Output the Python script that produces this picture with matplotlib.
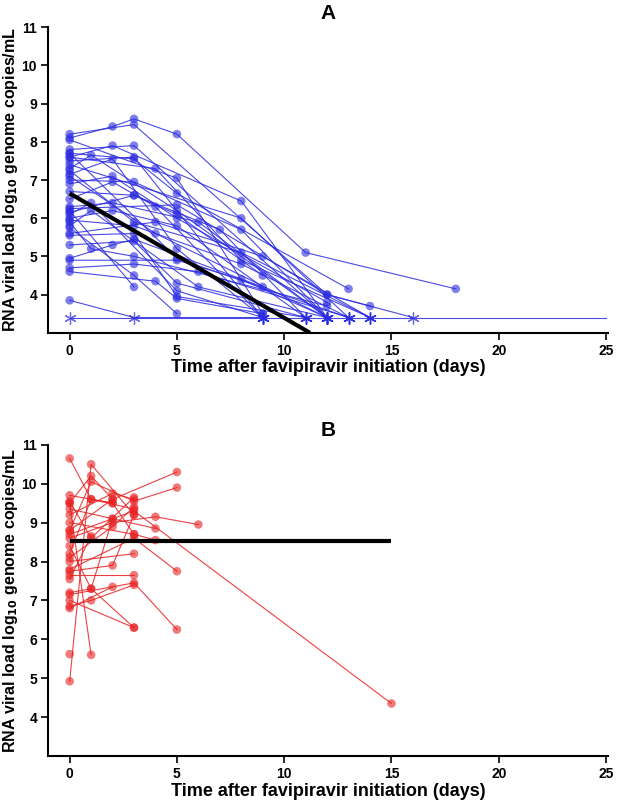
import matplotlib.pyplot as plt

plt.rcParams['font.family'] = ['Liberation Sans', 'DejaVu Sans']

LOD = 3.4

# Panel A: patients with low initial viral load (day, log10 copies/mL); LOD values plotted as *
times_a = [
    [0, 2, 3, 5, 11, 18], [0, 3, 12, 14], [0, 3, 12], [0, 5, 9], [0, 2, 8, 12],
    [0, 3, 9], [0, 3, 5, 13], [0, 1, 5, 12], [0, 2, 5, 9], [0, 8, 13],
    [0, 3, 8, 12], [0, 4, 8, 14], [0, 3, 7, 11], [0, 2, 6, 12], [0, 5, 12, 16],
    [0, 3, 5, 9], [0, 2, 5, 11], [0, 3, 8, 13], [0, 1, 6, 12], [0, 4, 9, 14],
    [0, 3, 5, 11], [0, 2, 3, 9], [0, 5, 8, 12], [0, 3, 6, 13], [0, 4, 5, 9],
    [0, 2, 5, 12], [0, 3, 8, 14], [0, 1, 5, 9], [0, 3, 5, 11], [0, 5, 13],
    [0, 2, 4, 9], [0, 3, 5], [0, 3, 9], [0, 4, 12], [0, 3], [0, 1, 3, 12],
    [0, 25],
]
values_a = [
    [8.1, 8.4, 8.6, 8.2, 5.1, 4.15], [8.2, 8.45, 4.0, 3.7], [7.8, 7.9, 3.4], [8.05, 7.05, 3.5], [7.6, 7.9, 6.45, 3.4],
    [7.5, 7.6, 3.4], [7.7, 7.55, 6.65, 4.15], [7.3, 7.65, 6.2, 3.4], [7.15, 7.55, 5.2, 3.4], [7.4, 6.0, 3.4],
    [7.0, 6.95, 5.7, 3.4], [7.6, 7.3, 4.9, 3.4], [6.7, 6.6, 5.7, 3.4], [6.3, 6.4, 5.9, 3.4], [6.25, 6.35, 4.0, 3.4],
    [6.15, 6.6, 6.1, 4.5], [6.0, 6.2, 5.8, 3.4], [5.95, 5.8, 4.8, 3.4], [5.8, 6.2, 4.2, 3.4], [5.6, 5.9, 5.0, 3.4],
    [5.3, 5.4, 4.3, 3.4], [4.95, 5.3, 5.45, 4.2], [4.9, 4.9, 4.4, 3.4], [4.7, 4.8, 4.6, 3.4], [4.6, 4.35, 3.9, 3.5],
    [6.9, 7.1, 6.0, 3.8], [7.25, 5.9, 5.1, 3.4], [6.1, 6.4, 4.1, 3.4], [5.55, 5.6, 3.95, 3.4], [7.7, 4.95, 3.4],
    [6.5, 6.95, 6.3, 3.4], [5.75, 4.5, 3.5], [3.85, 3.4, 3.4], [7.1, 5.6, 3.4], [6.2, 4.2], [5.9, 5.2, 5.0, 3.7],
    [3.4, 3.4],
]
trend_a_x = [0, 11.2]
trend_a_y = [6.65, 3.0]

# Panel B: patients with high initial viral load
times_b = [
    [0, 1, 2, 5], [0, 1, 3, 5], [0, 1, 2], [0, 2, 3], [0, 2, 4, 6], [0, 3, 15],
    [0, 1, 3], [0, 2, 3], [0, 3, 5], [0, 2, 4], [0, 1, 3], [0, 3, 4],
    [0, 2, 3], [0, 1, 3], [0, 3, 5], [0, 1, 2], [0, 3], [0, 1, 3], [0, 2],
    [0, 1], [0, 3], [0, 2, 3], [0, 3], [0, 1], [0, 2], [0, 1, 3], [0],
]
values_b = [
    [9.5, 10.2, 9.6, 10.3], [8.8, 10.05, 9.55, 9.9], [10.65, 9.6, 9.5], [9.2, 9.75, 9.6], [8.6, 9.0, 9.15, 8.95], [8.7, 9.3, 4.35],
    [9.55, 8.6, 9.65], [9.7, 9.5, 8.7], [7.8, 8.6, 7.75], [9.35, 9.1, 8.85], [8.2, 9.6, 9.35], [9.0, 8.7, 8.55],
    [8.1, 8.9, 9.4], [4.92, 10.5, 9.2], [7.15, 7.45, 6.25], [8.4, 7.3, 9.1], [7.65, 7.65], [7.2, 7.3, 6.3], [6.8, 7.35],
    [9.5, 5.6], [7.0, 6.3], [7.75, 7.9, 9.2], [8.0, 8.2], [7.55, 8.65], [8.8, 9.6], [6.85, 7.0, 7.4], [5.62],
]
trend_b_x = [0, 15]
trend_b_y = [8.53, 8.53]


def draw_panel(ax, times, values, trend_x, trend_y, color, title):
    for t, v in zip(times, values):
        ax.plot(t, v, color=color, lw=0.8, alpha=0.85, zorder=2)
        det = [(ti, vi) for ti, vi in zip(t, v) if vi > LOD]
        und = [(ti, vi) for ti, vi in zip(t, v) if vi <= LOD and ti < 25]
        if det:
            ax.scatter(*zip(*det), s=38, color=color, alpha=0.6, edgecolors='none', zorder=3)
        if und:
            ax.scatter(*zip(*und), s=70, marker=(6, 2, 0), color=color, alpha=0.7,
                       linewidths=0.9, zorder=3)
    ax.plot(trend_x, trend_y, color='black', lw=3, zorder=4, solid_capstyle='butt')
    ax.set_xlim(-1, 25.1)
    ax.set_ylim(3, 11)
    ax.set_xticks([0, 5, 10, 15, 20, 25])
    ax.set_yticks(range(4, 12))
    for s in ['top', 'right']:
        ax.spines[s].set_visible(False)
    ax.spines['left'].set_linewidth(1.5)
    ax.spines['bottom'].set_linewidth(1.5)
    ax.tick_params(labelsize=10, width=1.2, length=5, pad=3)
    for lab in ax.get_xticklabels() + ax.get_yticklabels():
        lab.set_fontweight('bold')
    ax.set_xlabel('Time after favipiravir initiation (days)', fontsize=13, fontweight='bold', labelpad=1)
    ax.set_ylabel(r'RNA viral load log$_{\mathbf{10}}$ genome copies/mL', fontsize=11.5,
                  fontweight='bold', labelpad=1)
    ax.set_title(title, fontsize=15, fontweight='bold', pad=6)


fig = plt.figure(figsize=(6.18, 8), dpi=100)
ax_a = fig.add_axes([0.078, 0.584, 0.906, 0.382])
ax_b = fig.add_axes([0.078, 0.055, 0.906, 0.389])
draw_panel(ax_a, times_a, values_a, trend_a_x, trend_a_y, '#2a2ae0', 'A')
draw_panel(ax_b, times_b, values_b, trend_b_x, trend_b_y, '#e82020', 'B')

fig.savefig('out.png', dpi=100)
